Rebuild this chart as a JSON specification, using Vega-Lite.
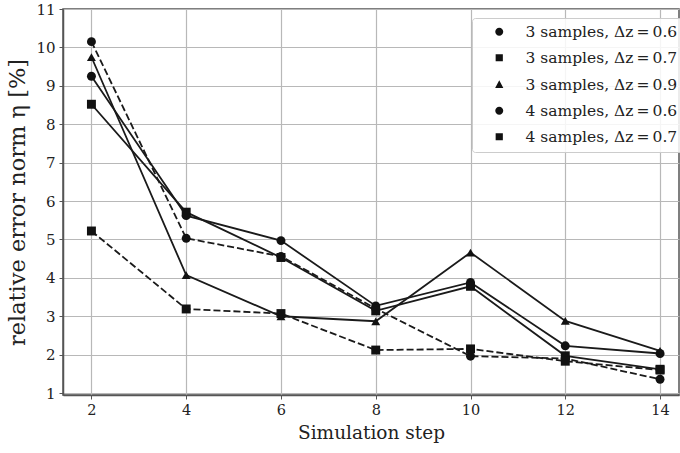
{
  "$schema": "https://vega.github.io/schema/vega-lite/v6.json",
  "autosize": {"type": "none"},
  "width": 616,
  "height": 386,
  "padding": {"left": 63, "top": 9, "right": 1, "bottom": 58},
  "background": "white",
  "config": {
    "font": "DejaVu Serif",
    "view": {"stroke": "#555", "strokeWidth": 1.5},
    "axis": {
      "gridColor": "#b8b8b8", "gridWidth": 1.2, "domainColor": "#555", "domainWidth": 1.5,
      "tickColor": "#555", "tickSize": 4, "labelFont": "DejaVu Serif", "labelFontSize": 15,
      "labelColor": "#222", "titleFont": "DejaVu Serif", "titleFontWeight": "normal", "titleColor": "#222"
    }
  },
  "data": {"values": [
    {"step": 2, "series": "3 samples, Δz\u2009=\u20090.6", "value": 9.25},
    {"step": 4, "series": "3 samples, Δz\u2009=\u20090.6", "value": 5.62},
    {"step": 6, "series": "3 samples, Δz\u2009=\u20090.6", "value": 4.97},
    {"step": 8, "series": "3 samples, Δz\u2009=\u20090.6", "value": 3.27},
    {"step": 10, "series": "3 samples, Δz\u2009=\u20090.6", "value": 3.88},
    {"step": 12, "series": "3 samples, Δz\u2009=\u20090.6", "value": 2.23},
    {"step": 14, "series": "3 samples, Δz\u2009=\u20090.6", "value": 2.03},
    {"step": 2, "series": "3 samples, Δz\u2009=\u20090.7", "value": 8.52},
    {"step": 4, "series": "3 samples, Δz\u2009=\u20090.7", "value": 5.71},
    {"step": 6, "series": "3 samples, Δz\u2009=\u20090.7", "value": 4.53},
    {"step": 8, "series": "3 samples, Δz\u2009=\u20090.7", "value": 3.14},
    {"step": 10, "series": "3 samples, Δz\u2009=\u20090.7", "value": 3.78},
    {"step": 12, "series": "3 samples, Δz\u2009=\u20090.7", "value": 1.97},
    {"step": 14, "series": "3 samples, Δz\u2009=\u20090.7", "value": 1.62},
    {"step": 2, "series": "3 samples, Δz\u2009=\u20090.9", "value": 9.75},
    {"step": 4, "series": "3 samples, Δz\u2009=\u20090.9", "value": 4.07},
    {"step": 6, "series": "3 samples, Δz\u2009=\u20090.9", "value": 3.0},
    {"step": 8, "series": "3 samples, Δz\u2009=\u20090.9", "value": 2.87},
    {"step": 10, "series": "3 samples, Δz\u2009=\u20090.9", "value": 4.66},
    {"step": 12, "series": "3 samples, Δz\u2009=\u20090.9", "value": 2.88},
    {"step": 14, "series": "3 samples, Δz\u2009=\u20090.9", "value": 2.1},
    {"step": 2, "series": "4 samples, Δz\u2009=\u20090.6", "value": 10.15},
    {"step": 4, "series": "4 samples, Δz\u2009=\u20090.6", "value": 5.03},
    {"step": 6, "series": "4 samples, Δz\u2009=\u20090.6", "value": 4.56},
    {"step": 8, "series": "4 samples, Δz\u2009=\u20090.6", "value": 3.2},
    {"step": 10, "series": "4 samples, Δz\u2009=\u20090.6", "value": 1.96},
    {"step": 12, "series": "4 samples, Δz\u2009=\u20090.6", "value": 1.9},
    {"step": 14, "series": "4 samples, Δz\u2009=\u20090.6", "value": 1.36},
    {"step": 2, "series": "4 samples, Δz\u2009=\u20090.7", "value": 5.22},
    {"step": 4, "series": "4 samples, Δz\u2009=\u20090.7", "value": 3.19},
    {"step": 6, "series": "4 samples, Δz\u2009=\u20090.7", "value": 3.07},
    {"step": 8, "series": "4 samples, Δz\u2009=\u20090.7", "value": 2.12},
    {"step": 10, "series": "4 samples, Δz\u2009=\u20090.7", "value": 2.15},
    {"step": 12, "series": "4 samples, Δz\u2009=\u20090.7", "value": 1.83},
    {"step": 14, "series": "4 samples, Δz\u2009=\u20090.7", "value": 1.6}
  ]},
  "encoding": {
    "x": {"field": "step", "type": "quantitative", "scale": {"domain": [1.4, 14.4], "nice": false, "zero": false},
      "axis": {"values": [2, 4, 6, 8, 10, 12, 14], "title": "Simulation step", "titleFontSize": 18.5, "titlePadding": 7, "labelPadding": 4, "labelFontSize": 14.5}},
    "y": {"field": "value", "type": "quantitative", "scale": {"domain": [0.95, 11], "nice": false, "zero": false},
      "axis": {"values": [1, 2, 3, 4, 5, 6, 7, 8, 9, 10, 11], "title": "relative error norm η [%]", "titleFontSize": 22.5, "titlePadding": 6, "labelPadding": 4}}
  },
  "layer": [
    {
      "mark": {"type": "point", "filled": true, "color": "#111", "stroke": "#111", "strokeWidth": 1.8, "size": 64},
      "encoding": {
        "opacity": {"field": "step", "type": "quantitative", "scale": {"range": [0, 0]}, "legend": null},
        "shape": {"field": "series", "type": "nominal",
          "scale": {"domain": ["3 samples, Δz\u2009=\u20090.6", "3 samples, Δz\u2009=\u20090.7", "3 samples, Δz\u2009=\u20090.9", "4 samples, Δz\u2009=\u20090.6", "4 samples, Δz\u2009=\u20090.7"],
            "range": [
              "M-1,0L7.75,0M4.375,0A1,1,0,1,1,2.375,0A1,1,0,1,1,4.375,0Z",
              "M-1,0L7.75,0M2.475,-0.9L4.275,-0.9L4.275,0.9L2.475,0.9Z",
              "M-1,0L7.75,0M3.375,-1.1L4.4,0.8L2.35,0.8Z",
              "M-1,0L0.8,0M2.2,0L4.55,0M5.95,0L7.75,0M4.375,0A1,1,0,1,1,2.375,0A1,1,0,1,1,4.375,0Z",
              "M-1,0L0.8,0M2.2,0L4.55,0M5.95,0L7.75,0M2.475,-0.9L4.275,-0.9L4.275,0.9L2.475,0.9Z"
            ]},
          "legend": {
            "title": null, "orient": "none", "legendX": 409, "legendY": 9,
            "labelFont": "DejaVu Serif", "labelFontSize": 15.5, "labelColor": "#222", "labelOffset": 32,
            "symbolFillColor": "#111", "symbolStrokeColor": "#111", "symbolStrokeWidth": 1.8, "symbolSize": 64, "symbolOpacity": 1,
            "rowPadding": 9, "padding": 6, "fillColor": "rgba(255,255,255,0.85)", "strokeColor": "#cccccc", "cornerRadius": 3,
            "encode": {"symbols": {"update": {
              "stroke": {"value": "#111"}, "strokeWidth": {"value": 1.8}, "strokeOpacity": {"value": 1},
              "fill": {"value": "#111"}, "fillOpacity": {"value": 1}, "opacity": {"value": 1}
            }}}
          }
        }
      }
    },
    {
      "transform": [{"filter": "indexof(datum.series, '3 samples') >= 0"}],
      "mark": {"type": "line", "color": "#1a1a1a", "strokeWidth": 1.8},
      "encoding": {"detail": {"field": "series"}}
    },
    {
      "transform": [{"filter": "indexof(datum.series, '4 samples') >= 0"}],
      "mark": {"type": "line", "color": "#1a1a1a", "strokeWidth": 1.8, "strokeDash": [7, 3]},
      "encoding": {"detail": {"field": "series"}}
    },
    {
      "transform": [{"filter": "indexof(datum.series, 'Δz\u2009=\u20090.6') >= 0"}],
      "mark": {"type": "point", "shape": "circle", "filled": true, "color": "#111", "opacity": 1, "size": 80}
    },
    {
      "transform": [{"filter": "indexof(datum.series, 'Δz\u2009=\u20090.7') >= 0"}],
      "mark": {"type": "point", "shape": "square", "filled": true, "color": "#111", "opacity": 1, "size": 80}
    },
    {
      "transform": [{"filter": "indexof(datum.series, 'Δz\u2009=\u20090.9') >= 0"}],
      "mark": {"type": "point", "shape": "triangle-up", "filled": true, "color": "#111", "opacity": 1, "size": 80}
    }
  ]
}
